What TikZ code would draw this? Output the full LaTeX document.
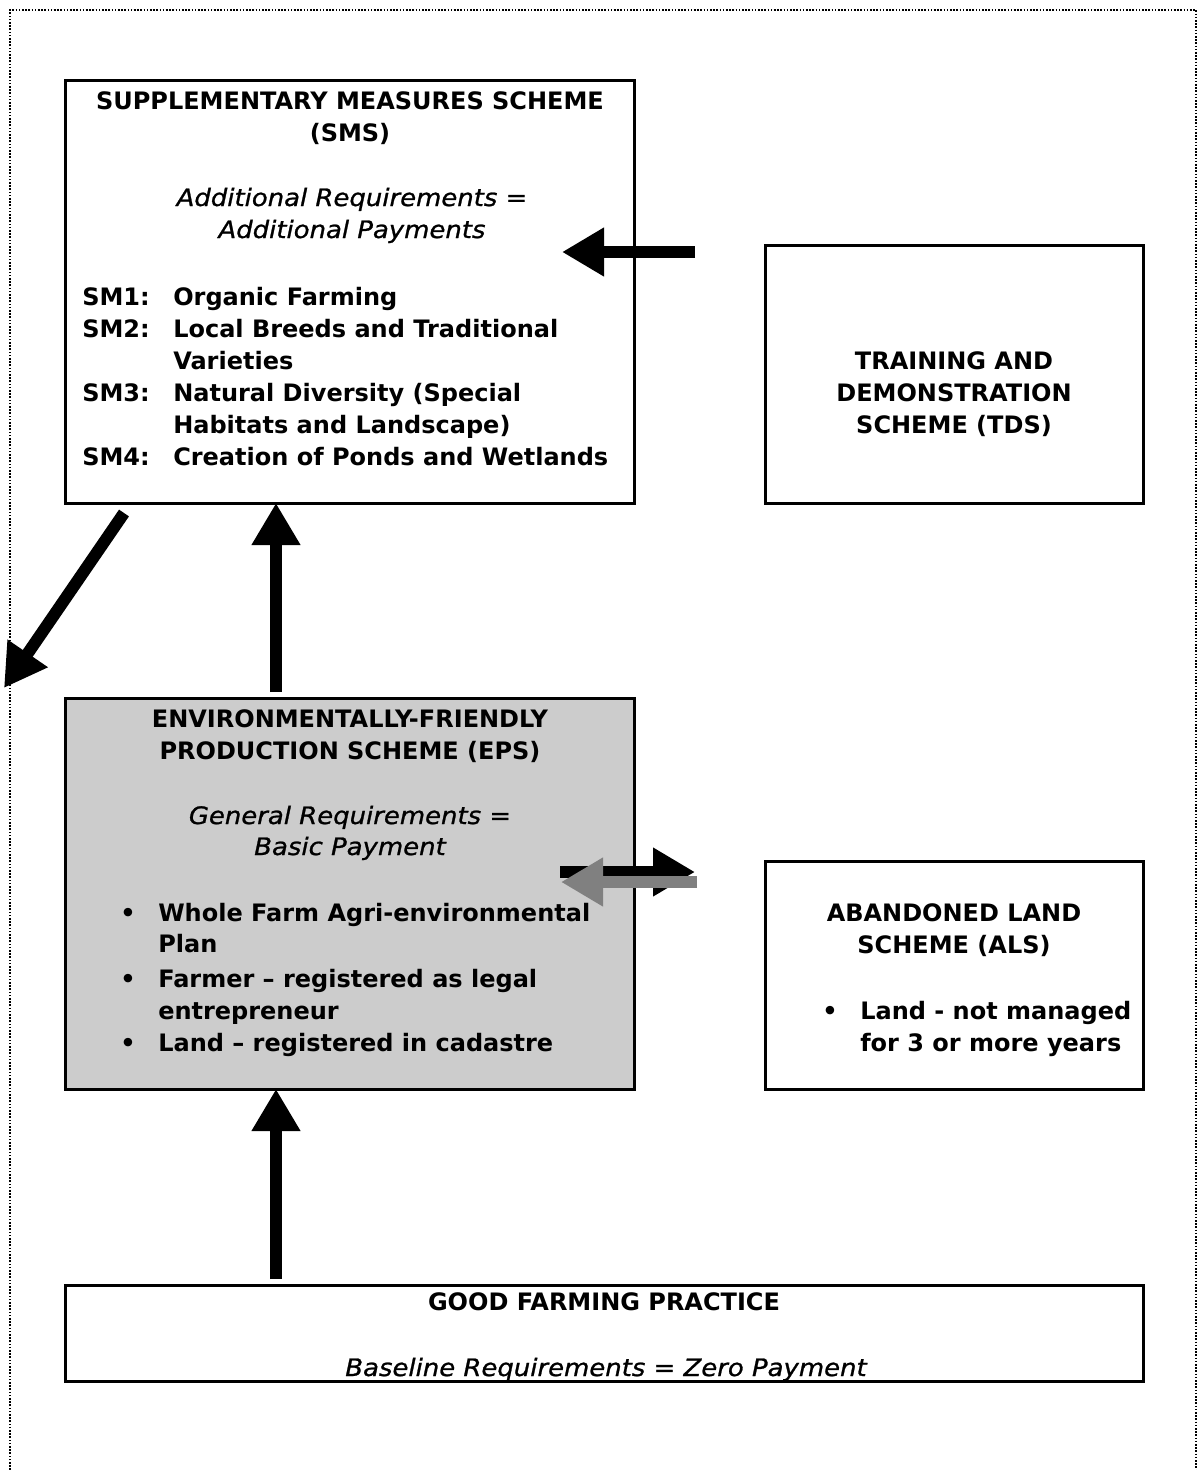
\documentclass[tikz,border=0pt]{standalone}
\usepackage{fontspec}
\setmainfont{DejaVu Sans}
\newfontfamily\itfam[FakeStretch=1.08,FakeBold=1]{DejaVu Sans}
\usetikzlibrary{arrows.meta}
\definecolor{epsgray}{HTML}{CCCCCC}
\definecolor{arrgray}{HTML}{808080}
\begin{document}
\begin{tikzpicture}[x=0.75pt,y=-0.75pt,
  box/.style={draw=black,line width=2.25pt,inner sep=0pt,outer sep=0pt,anchor=north west},
  ttl/.style={font=\fontsize{18}{24}\selectfont\bfseries,anchor=base,inner sep=0pt},
  lst/.style={font=\fontsize{18}{24}\selectfont\bfseries,anchor=base west,inner sep=0pt},
  itl/.style={font=\fontsize{18}{24}\selectfont\itfam\itshape,anchor=base,inner sep=0pt},
  bul/.style={font=\fontsize{18}{24}\selectfont\bfseries,anchor=base,inner sep=0pt},
  bigarrow/.style={line width=9pt,-{Triangle[length=31.5pt,width=34.5pt]}},
  frame/.style={line width=1.2pt,dash pattern=on 1.2pt off 1.2pt}
]
\useasboundingbox (0,0) rectangle (1198,1470);
% dotted frame
\coordinate (f1) at (10,1470);
\coordinate (f2) at (10,10);
\coordinate (f3) at (1196,10);
\coordinate (f4) at (1196,1470);
\draw[frame] (f1) -- (f2) -- (f3) -- (f4);

% boxes
\node[box,minimum width=426.75pt,minimum height=316.5pt] (sms) at (65,81) {};
\node[box,minimum width=283.5pt,minimum height=193.5pt] (tds) at (765,245) {};
\node[box,fill=epsgray,minimum width=426.75pt,minimum height=293.25pt] (eps) at (65,698) {};
\node[box,minimum width=283.5pt,minimum height=171pt] (als) at (765,861) {};
\node[box,minimum width=808.5pt,minimum height=72pt] (gfp) at (65,1285) {};

% SMS text
\node[ttl] (s1) at (350,109) {SUPPLEMENTARY MEASURES SCHEME};
\node[ttl] (s2) at (350,142) {(SMS)};
\node[itl] (s3) at (352,206) {Additional Requirements =};
\node[itl] (s4) at (352,238) {Additional Payments};
\node[lst] (l1a) at (82,305) {SM1:};
\node[lst] (l1b) at (173,305) {Organic Farming};
\node[lst] (l2a) at (82,337) {SM2:};
\node[lst] (l2b) at (173,337) {Local Breeds and Traditional};
\node[lst] (l2c) at (173,369) {Varieties};
\node[lst] (l3a) at (82,401) {SM3:};
\node[lst] (l3b) at (173,401) {Natural Diversity (Special};
\node[lst] (l3c) at (173,433) {Habitats and Landscape)};
\node[lst] (l4a) at (82,465) {SM4:};
\node[lst] (l4b) at (173,465) {Creation of Ponds and Wetlands};

% TDS text
\node[ttl] (t1) at (954,369) {TRAINING AND};
\node[ttl] (t2) at (954,401) {DEMONSTRATION};
\node[ttl] (t3) at (954,433) {SCHEME (TDS)};

% EPS text
\node[ttl] (e1) at (350,727) {ENVIRONMENTALLY-FRIENDLY};
\node[ttl] (e2) at (350,759) {PRODUCTION SCHEME (EPS)};
\node[itl] (e3) at (350,824) {General Requirements =};
\node[itl] (e4) at (350,855) {Basic Payment};
\node[bul] (eb1) at (128,921) {•};
\node[lst] (e5) at (158,921) {Whole Farm Agri-environmental};
\node[lst] (e6) at (158,952) {Plan};
\node[bul] (eb2) at (128,987) {•};
\node[lst] (e7) at (158,987) {Farmer – registered as legal};
\node[lst] (e8) at (158,1019) {entrepreneur};
\node[bul] (eb3) at (128,1051) {•};
\node[lst] (e9) at (158,1051) {Land – registered in cadastre};

% ALS text
\node[ttl] (a1) at (954,921) {ABANDONED LAND};
\node[ttl] (a2) at (954,953) {SCHEME (ALS)};
\node[bul] (ab1) at (830,1019) {•};
\node[lst] (a3) at (860,1019) {Land - not managed};
\node[lst] (a4) at (860,1051) {for 3 or more years};

% GFP text
\node[ttl] (g1) at (604,1310) {GOOD FARMING PRACTICE};
\node[itl] (g2) at (606,1376) {Baseline Requirements = Zero Payment};

% arrows
\coordinate (tdsA) at (695,252);
\coordinate (smsA) at (562,252);
\draw[bigarrow] (tdsA) -- (smsA);

\coordinate (epsUp) at (276,692);
\coordinate (smsBot) at (276,503);
\draw[bigarrow] (epsUp) -- (smsBot);

\coordinate (smsDiag) at (124,513);
\coordinate (outDiag) at (4,688);
\draw[bigarrow] (smsDiag) -- (outDiag);

\coordinate (gfpUp) at (276,1279);
\coordinate (epsBot) at (276,1089);
\draw[bigarrow] (gfpUp) -- (epsBot);

\coordinate (epsR1) at (560,872);
\coordinate (alsL1) at (695,872);
\draw[bigarrow] (epsR1) -- (alsL1);
\coordinate (alsL2) at (697,882);
\coordinate (epsR2) at (561,882);
\draw[bigarrow,draw=arrgray,fill=arrgray] (alsL2) -- (epsR2);
\end{tikzpicture}
\end{document}
